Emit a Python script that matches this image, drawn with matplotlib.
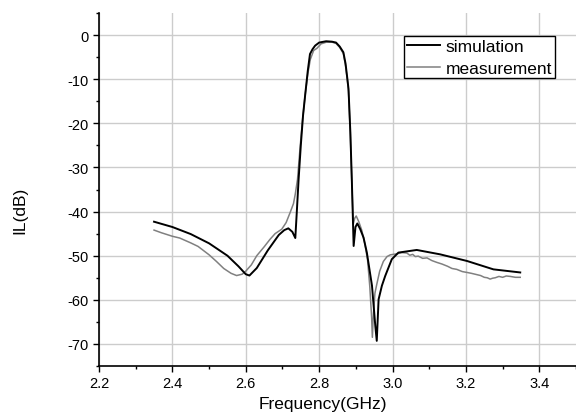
import numpy as np
from matplotlib import pyplot as plt
from matplotlib.ticker import MultipleLocator

plt.rcParams['font.family'] = ['Liberation Sans', 'DejaVu Sans']
plt.rcParams['axes.unicode_minus'] = False

# simulated insertion loss
f_sim = [2.35, 2.40, 2.45, 2.50, 2.55, 2.58, 2.60, 2.61, 2.63, 2.66, 2.69, 2.705,
         2.716, 2.727, 2.735, 2.739, 2.744, 2.750, 2.756, 2.762, 2.769, 2.775, 2.782,
         2.789, 2.80, 2.819, 2.835, 2.846, 2.856, 2.866, 2.872, 2.877, 2.880, 2.885,
         2.889, 2.894, 2.899, 2.904, 2.912, 2.921, 2.930, 2.944, 2.953, 2.957, 2.962,
         2.971, 2.980, 2.998, 3.016, 3.066, 3.130, 3.203, 3.275, 3.348]
il_sim = [-42.3, -43.5, -45.1, -47.2, -50.0, -52.4, -54.2, -54.5, -52.8, -48.8, -45.3, -44.2,
          -43.8, -44.6, -46.0, -40.2, -32.7, -25.0, -18.3, -13.5, -8.1, -4.3, -3.2,
          -2.4, -1.7, -1.4, -1.5, -1.7, -2.6, -3.9, -6.5, -10.0, -12.2, -22.0,
          -32.7, -47.8, -43.5, -42.7, -44.0, -45.9, -49.3, -56.8, -65.9, -69.3, -59.9,
          -56.8, -54.6, -50.8, -49.3, -48.7, -49.7, -51.2, -53.1, -53.8]

# measured insertion loss
f_meas = [2.35, 2.37, 2.40, 2.42, 2.45, 2.47, 2.50, 2.52, 2.54, 2.56, 2.575, 2.59,
          2.60, 2.615, 2.63, 2.65, 2.666, 2.68, 2.698, 2.71, 2.721, 2.730, 2.735, 2.741,
          2.748, 2.755, 2.762, 2.769, 2.776, 2.785, 2.794, 2.805, 2.82, 2.835, 2.846,
          2.856, 2.866, 2.872, 2.877, 2.880, 2.885, 2.889, 2.893, 2.897, 2.901, 2.908,
          2.916, 2.925, 2.932, 2.938, 2.943, 2.945, 2.948, 2.952, 2.957, 2.965, 2.975,
          2.985, 2.994, 3.01, 3.025, 3.039, 3.047, 3.055, 3.062, 3.07, 3.082, 3.094,
          3.107, 3.12, 3.135, 3.15, 3.162, 3.175, 3.19, 3.203, 3.215, 3.23, 3.24, 3.25,
          3.258, 3.266, 3.273, 3.28, 3.29, 3.30, 3.31, 3.321, 3.335, 3.348]
il_meas = [-44.2, -44.8, -45.6, -46.0, -47.1, -47.9, -49.8, -51.3, -52.9, -54.0, -54.5, -54.2,
           -53.5, -52.1, -50.0, -48.0, -46.3, -45.0, -44.0, -42.5, -40.2, -38.2, -36.0, -32.7,
           -25.5, -19.0, -13.5, -8.8, -5.5, -3.5, -3.0, -2.0, -1.6, -1.6, -1.9,
           -2.8, -4.2, -7.0, -10.3, -12.8, -22.5, -33.5, -42.8, -41.5, -41.0, -42.3,
           -44.2, -47.5, -51.0, -57.0, -64.0, -68.5, -63.0, -58.5, -56.5, -53.5, -51.3,
           -50.2, -49.8, -49.6, -49.3, -49.4, -49.9, -49.7, -50.2, -50.1, -50.6, -50.5,
           -51.1, -51.5, -51.9, -52.4, -52.9, -53.1, -53.6, -53.8, -54.0, -54.3, -54.5, -54.9,
           -55.0, -55.3, -55.1, -55.0, -54.7, -54.9, -54.6, -54.7, -54.9, -54.9]

fig = plt.figure(figsize=(5.76, 4.14), dpi=100)
ax = fig.add_axes([99/576, 47/414, 477/576, 353/414])

ax.plot(f_sim, il_sim, color='k', lw=1.4, label='simulation', zorder=3)
ax.plot(f_meas, il_meas, color='#808080', lw=1.1, label='measurement', zorder=2)

ax.set_xlim(2.2, 3.5)
ax.set_ylim(-75, 5)
ax.set_xticks(np.arange(2.2, 3.41, 0.2))
ax.set_yticks(np.arange(-70, 1, 10))
ax.xaxis.set_minor_locator(MultipleLocator(0.1))
ax.yaxis.set_minor_locator(MultipleLocator(5))
ax.tick_params(which='major', direction='out', length=4, width=1, labelsize=10.5)
ax.tick_params(which='minor', direction='out', length=2.5, width=1)
ax.grid(True, which='major', color='#cccccc', lw=1)
ax.set_axisbelow(True)

for s in ['top', 'right']:
    ax.spines[s].set_visible(False)
for s in ['left', 'bottom']:
    ax.spines[s].set_linewidth(1.2)

ax.set_xlabel('Frequency(GHz)', fontsize=12.5)
ax.xaxis.set_label_coords(0.47, -0.085)
ax.set_ylabel('IL(dB)', fontsize=12.5)
ax.yaxis.set_label_coords(-0.15, 0.445)

leg = ax.legend(loc='upper left', bbox_to_anchor=(305/477, 1 - 23/353), fontsize=12.5,
                frameon=True, fancybox=False, handlelength=1.9, handletextpad=0.35,
                borderpad=0.15, labelspacing=0.4, borderaxespad=0)
leg.get_frame().set_edgecolor('k')
leg.get_frame().set_linewidth(1)
leg.get_frame().set_alpha(1)

plt.savefig('out.png', dpi=100)
